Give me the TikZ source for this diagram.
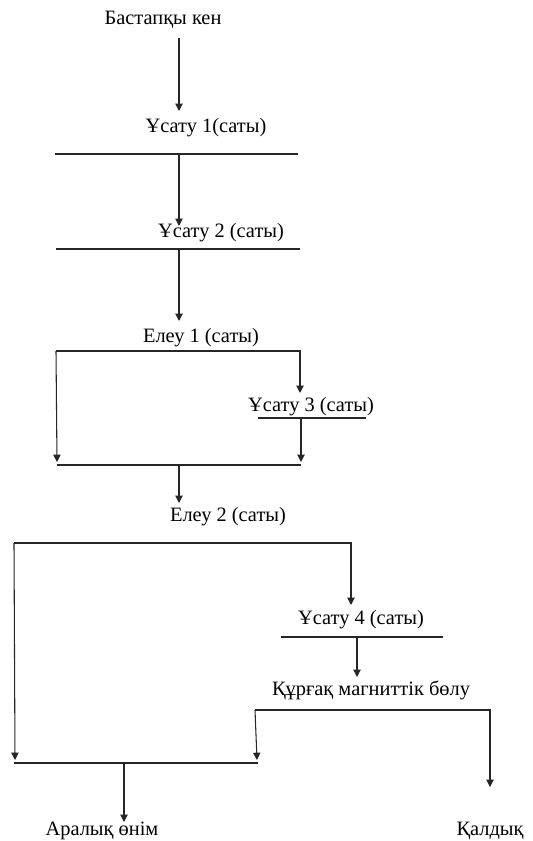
\documentclass[tikz,border=0pt]{standalone}
\usepackage{fontspec}
\setmainfont{Liberation Serif}
\usetikzlibrary{arrows.meta}
\begin{document}
\begin{tikzpicture}[x=0.75pt,y=-0.75pt,
  lbl/.style={inner sep=0pt,font=\fontsize{15.3}{17}\selectfont},
  ln/.style={line width=0.8pt,draw=black!85},
  arr/.style={ln,-{Triangle[width=5.5pt,length=5.5pt]}}]
\useasboundingbox (0,0) rectangle (532,841);
% labels
\node[lbl] (src) at (163,20) {Бастапқы кен};
\node[lbl] (u1) at (206,128) {Ұсату 1(саты)};
\node[lbl] (u2) at (221,233) {Ұсату 2 (саты)};
\node[lbl] (e1) at (201,338) {Елеу 1 (саты)};
\node[lbl] (u3) at (311,407) {Ұсату 3 (саты)};
\node[lbl] (e2) at (228,517) {Елеу 2 (саты)};
\node[lbl] (u4) at (361,620) {Ұсату 4 (саты)};
\node[lbl] (kmb) at (371,690) {Құрғақ магниттік бөлу};
\node[lbl] (ara) at (102,831) {Аралық өнім};
\node[lbl] (kal) at (490,831) {Қалдық};
% coordinates
\coordinate (a1s) at (179,38);  \coordinate (a1e) at (179,111);
\coordinate (b1l) at (55,154);  \coordinate (b1r) at (298,154);
\coordinate (a2s) at (179,154); \coordinate (a2e) at (179,226);
\coordinate (b2l) at (56,249);  \coordinate (b2r) at (300,249);
\coordinate (a3s) at (179,249); \coordinate (a3e) at (179,321);
\coordinate (k1l) at (56,351);  \coordinate (k1r) at (300,351);
\coordinate (k1le) at (57,462); \coordinate (k1re) at (300,393);
\coordinate (u3l) at (258,418); \coordinate (u3r) at (366,418);
\coordinate (a4s) at (301,418); \coordinate (a4e) at (301,462);
\coordinate (b3l) at (57,465);  \coordinate (b3r) at (301,465);
\coordinate (a5s) at (179,465); \coordinate (a5e) at (179,503);
\coordinate (k2l) at (14,543);  \coordinate (k2r) at (351,543);
\coordinate (k2le) at (15,760); \coordinate (k2re) at (351,605);
\coordinate (u4l) at (281,637); \coordinate (u4r) at (443,637);
\coordinate (a6s) at (357,637); \coordinate (a6e) at (357,677);
\coordinate (k3l) at (255,710); \coordinate (k3r) at (490,710);
\coordinate (k3le) at (257,760); \coordinate (k3re) at (490,787);
\coordinate (b4l) at (14,763);  \coordinate (b4r) at (258,763);
\coordinate (a7s) at (124,763); \coordinate (a7e) at (124,822);
% drawing
\draw[arr] (a1s) -- (a1e);
\draw[ln] (b1l) -- (b1r);
\draw[arr] (a2s) -- (a2e);
\draw[ln] (b2l) -- (b2r);
\draw[arr] (a3s) -- (a3e);
\draw[arr] (k1l) -- (k1le);
\draw[arr] (k1l) -- (k1r) -- (k1re);
\draw[ln] (u3l) -- (u3r);
\draw[arr] (a4s) -- (a4e);
\draw[ln] (b3l) -- (b3r);
\draw[arr] (a5s) -- (a5e);
\draw[arr] (k2l) -- (k2le);
\draw[arr] (k2l) -- (k2r) -- (k2re);
\draw[ln] (u4l) -- (u4r);
\draw[arr] (a6s) -- (a6e);
\draw[arr] (k3l) -- (k3le);
\draw[arr] (k3l) -- (k3r) -- (k3re);
\draw[ln] (b4l) -- (b4r);
\draw[arr] (a7s) -- (a7e);
\end{tikzpicture}
\end{document}
